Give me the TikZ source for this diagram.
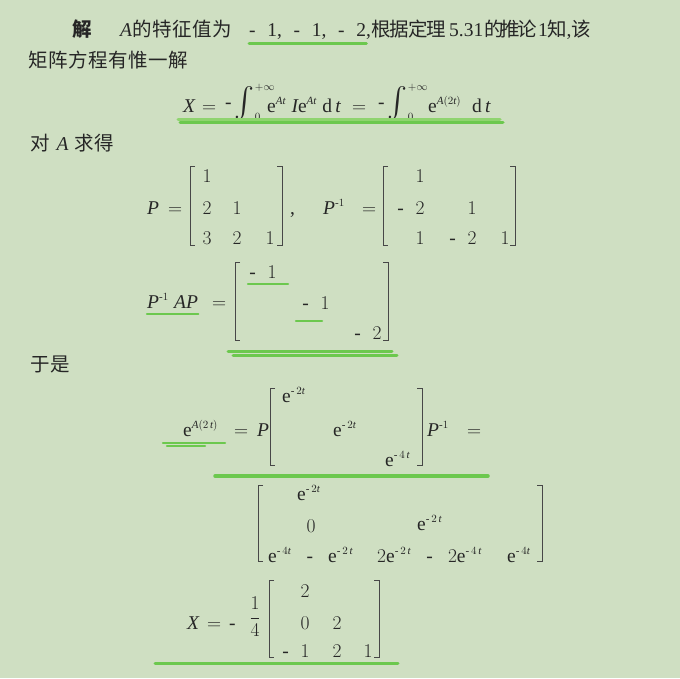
\RequirePackage{fix-cm}
\documentclass[tikz,border=0pt]{standalone}
\usepackage{amsmath}
\usepackage{graphicx}
\usepackage{fontspec}
\setmainfont{Liberation Serif}
\newfontfamily\cjk[LetterSpace=3]{Noto Sans CJK SC}
\begingroup\edef\x{\endgroup
  \noexpand\DeclareSymbolFont{operators}{TU}{\rmdefault}{m}{n}%
  \noexpand\DeclareSymbolFont{letters}{TU}{\rmdefault}{m}{it}}\x
\DeclareMathSizes{19.5}{19.5}{11}{8}
\definecolor{bg}{HTML}{CFDFC2}
\definecolor{ink}{HTML}{262626}
\definecolor{hlgreen}{HTML}{6CC84E}
\definecolor{hllight}{HTML}{8FD46F}
\newcommand{\intbig}{\mathop{\vcenter{\hbox{\scalebox{1.45}{$\int$}}}}\nolimits}
\newcommand{\negsign}{\llap{-\hspace{0.6em}}}
\begin{document}
\begin{tikzpicture}[x=1pt, y=-1pt, font=\fontsize{19.5}{23}\selectfont, text=ink]
\tikzstyle{t} = [inner sep=0pt, anchor=base west]
\tikzstyle{c} = [inner sep=0pt, anchor=base]
\tikzstyle{brk} = [draw=ink!85, line width=0.9pt]
\tikzstyle{uline} = [draw=hlgreen, line width=3pt, line cap=round]

\useasboundingbox (0,0) rectangle (680,678);
\fill[bg] (0,0) rectangle (680,678);

% first lines
\node[t] (jie) at (72,36) {{\cjk\bfseries 解}};
\node[t] (eig) at (120,36) {\textit{A}{\cjk 的特征值为}};
\node[t] (vals) at (249,36) {-\hspace{0.6em}1,\hspace{0.6em}-\hspace{0.6em}1,\hspace{0.6em}-\hspace{0.6em}2};
\node[t] (thm) at (366,36) {,{\cjk 根\hspace{-1pt}据\hspace{-1pt}定\hspace{-1pt}理}};
\node[t] (sec) at (449,36) {5.31};
\node[t] (cor) at (484,36) {{\cjk 的\hspace{-3pt}推\hspace{-3pt}论}};
\node[t] (one) at (538,36) {1};
\node[t] (zhi) at (547,36) {{\cjk 知},{\cjk 该}};
\node[t] (uniq) at (28,67) {{\cjk 矩阵方程有惟一解}};

\draw[uline] ([yshift=-7pt]vals.base west) -- ([yshift=-7pt]vals.base east);

% X as integral
\node[t] (eqx) at (183,112) {$X$};
\node[t] (eqeq1) at (202,112) {$=$};
\node[t] (eqi1) at (225,108) {$\text{-}\intbig_0^{+\infty}$};
\node[t] (eqe1) at (267,112) {$\mathrm{e}^{At}\;I\mathrm{e}^{At}\;\mathrm{d}\,t$};
\node[t] (eqeq2) at (352,112) {$=$};
\node[t] (eqi2) at (378,108) {$\text{-}\intbig_0^{+\infty}$};
\node[t] (eqe2) at (428,112) {$\mathrm{e}^{A(2t)}\;\;\mathrm{d}\,t$};
\draw[uline, draw=hllight] (178,119) -- (500,119);
\draw[uline] (180,122) -- (503,122);

\node[t] (dui) at (30,150) {{\cjk 对}\hspace{7pt}\textit{A}\hspace{6pt}{\cjk 求得}};

% P and its inverse
\node[t] (pl) at (147,214) {$P$};
\node[t] (pleq) at (168,214) {$=$};
\draw[brk] (195,166) -- (190,166) -- (190,245) -- (195,245);
\draw[brk] (277,166) -- (282,166) -- (282,245) -- (277,245);
\node[c] (p11) at (207,182) {$1$};
\node[c] (p21) at (207,214) {$2$};
\node[c] (p22) at (237,214) {$1$};
\node[c] (p31) at (207,244) {$3$};
\node[c] (p32) at (237,244) {$2$};
\node[c] (p33) at (270,244) {$1$};
\node[t] (comma) at (290,214) {,};

\node[t] (pinv) at (323,214) {$P^{\text{-}1}$};
\node[t] (pinveq) at (362,214) {$=$};
\draw[brk] (388,166) -- (383,166) -- (383,245) -- (388,245);
\draw[brk] (510,166) -- (515,166) -- (515,245) -- (510,245);
\node[c] (q11) at (420,182) {$1$};
\node[c] (q21) at (420,214) {\negsign$2$};
\node[c] (q22) at (472,214) {$1$};
\node[c] (q31) at (420,244) {$1$};
\node[c] (q32) at (472,244) {\negsign$2$};
\node[c] (q33) at (505,244) {$1$};

% diagonal form
\node[t] (pap) at (147,308) {$P^{\text{-}1}\;AP$};
\node[t] (papeq) at (212,308) {$=$};
\draw[uline, line width=2.5pt] ([yshift=-6pt]pap.base west) -- ([yshift=-6pt]pap.base east);
\draw[brk] (240,262) -- (235,262) -- (235,340) -- (240,340);
\draw[brk] (383,262) -- (388,262) -- (388,340) -- (383,340);
\node[c] (d1) at (272,278) {\negsign$1$};
\node[c] (d2) at (325,309) {\negsign$1$};
\node[c] (d3) at (377,339) {\negsign$2$};
\draw[uline, line width=2.5pt] (248,284) -- (288,284);
\draw[uline, line width=2.5pt] (296,321) -- (322,321);
\draw[uline] (228,351) -- (392,351);
\draw[uline] (233,355) -- (397,355);

\node[t] (yushi) at (30,371) {{\cjk 于是}};

% exponential
\node[t] (ea) at (183,436) {$\mathrm{e}^{A(2\,t)}$};
\node[t] (eaeq) at (234,436) {$=$};
\node[t] (pp) at (257,436) {$P$};
\draw[brk] (275,388) -- (270,388) -- (270,465) -- (275,465);
\draw[brk] (417,388) -- (422,388) -- (422,465) -- (417,465);
\node[t] (ed1) at (282,402) {$\mathrm{e}^{\text{-}\,2t}$};
\node[t] (ed2) at (333,436) {$\mathrm{e}^{\text{-}\,2t}$};
\node[t] (ed3) at (385,466) {$\mathrm{e}^{\text{-}\,4\,t}$};
\node[t] (pinv2) at (427,436) {$P^{\text{-}1}$};
\node[t] (pinv2eq) at (467,436) {$=$};
\draw[uline, line width=2.5pt] (163,443) -- (225,443);
\draw[uline, line width=2.5pt] (167,446) -- (205,446);
\draw[uline, line width=3.5pt] (215,476) -- (488,476);

\draw[brk] (263,485) -- (258,485) -- (258,561) -- (263,561);
\draw[brk] (537,485) -- (542,485) -- (542,561) -- (537,561);
\node[t] (m11) at (297,500) {$\mathrm{e}^{\text{-}\,2t}$};
\node[c] (m21) at (311,532) {$0$};
\node[t] (m22) at (417,530) {$\mathrm{e}^{\text{-}\,2\,t}$};
\node[t] (m31) at (268,562) {$\mathrm{e}^{\text{-}\,4t}\mkern14mu\text{-}\mkern14mu\mathrm{e}^{\text{-}\,2\,t}$};
\node[t] (m32) at (377,562) {$2\mathrm{e}^{\text{-}\,2\,t}\mkern14mu\text{-}\mkern14mu2\mathrm{e}^{\text{-}\,4\,t}$};
\node[t] (m33) at (507,562) {$\mathrm{e}^{\text{-}\,4t}$};

% result
\node[t] (xl) at (187,629) {$X$};
\node[t] (xleq) at (207,629) {$=$};
\node[t] (xneg) at (229,629) {-};
\node[c] (xfrac) at (255,623) {$\dfrac{1}{4}$};
\draw[brk] (274,580) -- (269,580) -- (269,657) -- (274,657);
\draw[brk] (374,580) -- (379,580) -- (379,657) -- (374,657);
\node[c] (x11) at (305,597) {$2$};
\node[c] (x21) at (305,629) {$0$};
\node[c] (x22) at (337,629) {$2$};
\node[c] (x31) at (305,657) {\negsign$1$};
\node[c] (x32) at (337,657) {$2$};
\node[c] (x33) at (368,657) {$1$};
\draw[uline] (155,663) -- (398,663);
\end{tikzpicture}
\end{document}
